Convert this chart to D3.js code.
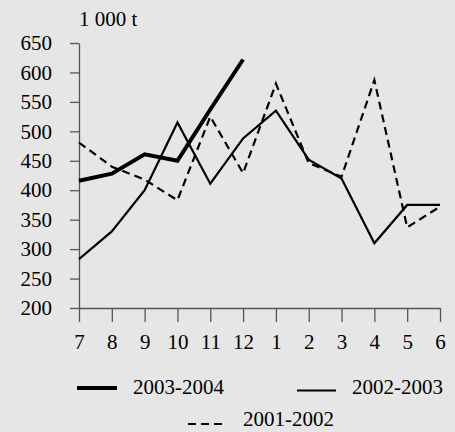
<!DOCTYPE html>
<html><head><meta charset="utf-8">
<script src="https://cdn.jsdelivr.net/npm/d3@7"></script>
<style>html,body{margin:0;padding:0;background:#e6e6e6;}svg{display:block;}
svg text{font-family:"Liberation Serif","Times New Roman","DejaVu Serif",serif !important;}</style>
</head><body>
<script>
const months = ["7","8","9","10","11","12","1","2","3","4","5","6"];
const s2003_2004 = [416, 428, 461, 450, 537, 622];
const s2002_2003 = [283, 330, 400, 515, 411, 488, 535, 452, 420, 310, 375, 375];
const s2001_2002 = [481, 440, 418, 383, 525, 429, 581, 446, 423, 587, 337, 372];
const yTicks = [200, 250, 300, 350, 400, 450, 500, 550, 600, 650];
const unitLabel = "1 000 t";
const seriesNames = ["2003-2004", "2002-2003", "2001-2002"];

const W = 455, H = 432;
const svg = d3.select("body").append("svg").attr("width", W).attr("height", H);
svg.append("rect").attr("width", W).attr("height", H).attr("fill", "#e6e6e6");
const fs = 21;

const x = d3.scalePoint().domain(months).range([79, 440]);
const y = d3.scaleLinear().domain([200, 650]).range([308, 43]);

// Y axis
const ya = svg.append("g").attr("transform", "translate(79,0)")
  .call(d3.axisLeft(y).tickValues(yTicks).tickSize(9).tickPadding(18).tickSizeOuter(0));
ya.select(".domain").attr("stroke", "#555").attr("stroke-width", 1.3);
ya.selectAll(".tick line").attr("stroke", "#555").attr("stroke-width", 1.3);
ya.selectAll("text").attr("font-size", fs).attr("fill", "#000");

// X axis
const xa = svg.append("g").attr("transform", "translate(0,308)")
  .call(d3.axisBottom(x).tickSize(14).tickPadding(12).tickSizeOuter(0));
xa.select(".domain").attr("stroke", "#555").attr("stroke-width", 1.3);
xa.selectAll(".tick line").attr("stroke", "#555").attr("stroke-width", 1.3);
xa.selectAll("text").attr("font-size", fs).attr("fill", "#000");

svg.append("text").attr("x", 79).attr("y", 26).attr("font-size", fs).text(unitLabel);

const line = d3.line().x((d, i) => x(months[i])).y(d => y(d));
const styles = [
  {data: s2003_2004, w: 4, dash: null},
  {data: s2002_2003, w: 2.2, dash: null},
  {data: s2001_2002, w: 2.2, dash: "8,5"}
];
[styles[2], styles[1], styles[0]].forEach(s => {
  svg.append("path").attr("d", line(s.data)).attr("fill", "none").attr("stroke", "#000")
    .attr("stroke-width", s.w).attr("stroke-dasharray", s.dash).attr("stroke-linejoin", "miter");
});

// Legend
const leg = [
  {x1: 77, x2: 117, y: 388, tx: 133, ty: 394, s: styles[0], name: seriesNames[0]},
  {x1: 297, x2: 336, y: 390.5, tx: 352, ty: 394, s: styles[1], name: seriesNames[1]},
  {x1: 188, x2: 227, y: 424, tx: 243, ty: 426, s: styles[2], name: seriesNames[2]}
];
leg.forEach(l => {
  svg.append("line").attr("x1", l.x1).attr("x2", l.x2).attr("y1", l.y).attr("y2", l.y)
    .attr("stroke", "#000").attr("stroke-width", l.s.w).attr("stroke-dasharray", l.s.dash);
  svg.append("text").attr("x", l.tx).attr("y", l.ty).attr("font-size", fs).text(l.name);
});
</script>
</body></html>
